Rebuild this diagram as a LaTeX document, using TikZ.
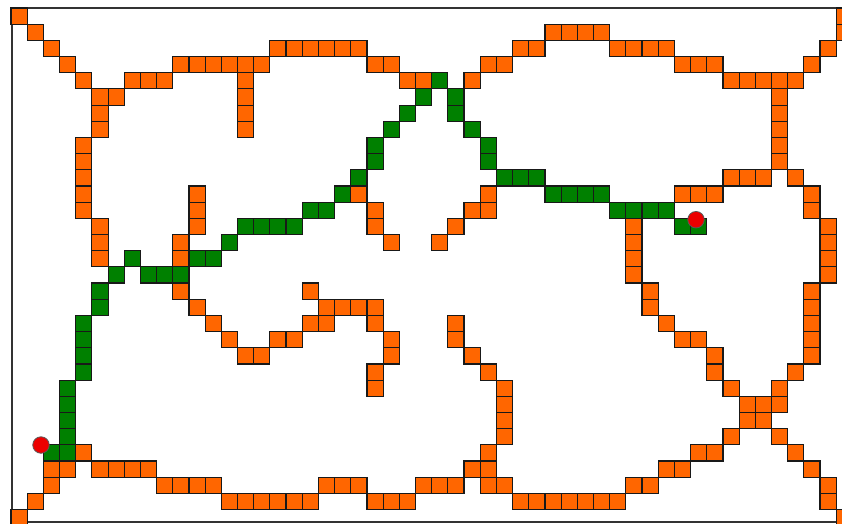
\documentclass[tikz,border=0pt]{standalone}
\definecolor{cellorange}{RGB}{255,102,0}
\definecolor{cellgreen}{RGB}{0,128,0}
\definecolor{agentred}{RGB}{236,0,0}
\tikzset{
  orangecell/.style={fill=cellorange,draw=black!90,line width=1.15pt},
  greencell/.style={fill=cellgreen,draw=black!90,line width=1.15pt},
  agent/.style={circle,fill=agentred,draw=black!65,line width=0.8pt,minimum size=16.5pt,inner sep=0pt},
  frameline/.style={draw=black!80,line width=1.2pt}
}
\def\cs{16.18}
\begin{document}
\begin{tikzpicture}[x=1pt,y=-1pt]
\useasboundingbox (0,0) rectangle (842,523);
\draw[frameline] (850,8) -- (12,8) -- (12,522) -- (850,522);
% orange cells: row / first column / last column
\foreach \r/\a/\b in {0/0/0, 0/51/51,
1/1/1, 1/33/36, 1/51/51,
2/2/2, 2/16/21, 2/31/32, 2/37/40, 2/50/50,
3/3/3, 3/10/15, 3/22/23, 3/29/30, 3/41/43, 3/49/49,
4/4/4, 4/7/9, 4/14/14, 4/24/25, 4/28/28, 4/44/48,
5/5/6, 5/14/14, 5/47/47,
6/5/5, 6/14/14, 6/47/47,
7/5/5, 7/14/14, 7/47/47,
8/4/4, 8/47/47,
9/4/4, 9/47/47,
10/4/4, 10/44/46, 10/48/48,
11/4/4, 11/11/11, 11/21/21, 11/29/29, 11/41/43, 11/49/49,
12/4/4, 12/11/11, 12/22/22, 12/28/29, 12/49/49,
13/5/5, 13/11/11, 13/22/22, 13/27/27, 13/38/38, 13/50/50,
14/5/5, 14/10/10, 14/23/23, 14/26/26, 14/38/38, 14/50/50,
15/5/5, 15/10/10, 15/38/38, 15/50/50,
16/38/38, 16/50/50,
17/10/10, 17/18/18, 17/39/39, 17/49/49,
18/11/11, 18/19/22, 18/39/39, 18/49/49,
19/12/12, 19/18/19, 19/22/22, 19/27/27, 19/40/40, 19/49/49,
20/13/13, 20/16/17, 20/23/23, 20/27/27, 20/41/42, 20/49/49,
21/14/15, 21/23/23, 21/28/28, 21/43/43, 21/49/49,
22/22/22, 22/29/29, 22/43/43, 22/48/48,
23/22/22, 23/30/30, 23/44/44, 23/47/47,
24/30/30, 24/45/47,
25/30/30, 25/45/46,
26/30/30, 26/44/44, 26/47/47,
27/4/4, 27/29/29, 27/42/43, 27/48/48,
28/2/3, 28/5/8, 28/28/29, 28/40/41, 28/49/49,
29/2/2, 29/9/12, 29/19/21, 29/25/27, 29/29/30, 29/38/39, 29/50/50,
30/1/1, 30/13/18, 30/22/24, 30/31/37, 30/50/50,
31/0/0, 31/51/51}{
  \foreach \c in {\a,...,\b}{
    \path[orangecell] ({11+\cs*\c},{8+\cs*\r}) rectangle ++(\cs,\cs);
  }
}
% green cells
\foreach \r/\a/\b in {4/26/26, 5/25/25, 5/27/27, 6/24/24, 6/27/27, 7/23/23, 7/28/28,
8/22/22, 8/29/29, 9/22/22, 9/29/29, 10/21/21, 10/30/32, 11/20/20, 11/33/36,
12/18/19, 12/37/40, 13/14/17, 13/41/42, 14/13/13, 15/7/7, 15/11/12,
16/6/6, 16/8/10, 17/5/5, 18/5/5, 19/4/4, 20/4/4, 21/4/4, 22/4/4,
23/3/3, 24/3/3, 25/3/3, 26/3/3, 27/2/3}{
  \foreach \c in {\a,...,\b}{
    \path[greencell] ({11+\cs*\c},{8+\cs*\r}) rectangle ++(\cs,\cs);
  }
}
\node[agent] (agentA) at (41,445) {};
\node[agent] (agentB) at (696,219.7) {};
\end{tikzpicture}
\end{document}
